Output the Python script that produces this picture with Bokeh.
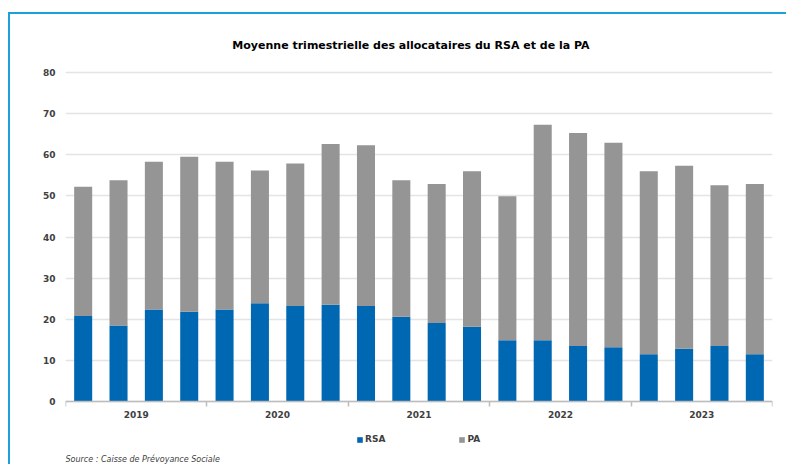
from bokeh.plotting import figure
from bokeh.models import ColumnDataSource, FixedTicker, Legend, LegendItem, Label, Range1d
from bokeh.embed import file_html
from bokeh.resources import INLINE

years = ["2019", "2020", "2021", "2022", "2023"]
quarters = ["T1", "T2", "T3", "T4"]
rsa = [20.8, 18.5, 22.4, 21.8, 22.4, 23.9, 23.2, 23.5, 23.2, 20.6,
       19.1, 18.2, 14.9, 14.9, 13.5, 13.2, 11.5, 12.8, 13.5, 11.5]
pa = [31.4, 35.3, 35.9, 37.7, 35.9, 32.3, 34.7, 39.1, 39.1, 33.2,
      33.8, 37.8, 35.0, 52.4, 51.8, 49.7, 44.5, 44.5, 39.1, 41.4]
y_ticks = [0, 10, 20, 30, 40, 50, 60, 70, 80]

labels = [f"{q} {y}" for y in years for q in quarters]
n_q = len(quarters)
xpos = [i + 0.5 for i in range(len(labels))]

src = ColumnDataSource(dict(x=xpos, label=labels, RSA=rsa, PA=pa))

BLUE = "#0067b2"
GREY = "#959595"
TXT = "#404040"
FONT = "DejaVu Sans"

# frame spans the full canvas height; value axis 0..80 occupies the middle
p = figure(width=778, height=452, x_range=Range1d(0, len(labels)),
           y_range=Range1d(-15.8, 94.1),
           output_backend="svg", toolbar_location=None,
           min_border_left=55, min_border_right=16, min_border_top=0, min_border_bottom=0)
p.styles = {"border-left": "2px solid #1d9fd9", "border-top": "2px solid #1d9fd9",
            "margin-top": "12px", "margin-left": "8px"}
p.outline_line_color = None
p.background_fill_color = "white"
p.border_fill_color = "white"

rends = p.vbar_stack(["RSA", "PA"], x="x", width=0.51, source=src,
                     color=[BLUE, GREY], line_color=None)

# grid
p.xgrid.grid_line_color = None
p.ygrid.grid_line_color = "#e4e4e4"
p.ygrid.grid_line_width = 1.5
p.ygrid.ticker = FixedTicker(ticks=y_ticks)

# y axis
p.yaxis.ticker = FixedTicker(ticks=y_ticks)
p.yaxis.axis_line_color = None
p.yaxis.major_tick_line_color = None
p.yaxis.minor_tick_line_color = None
p.yaxis.major_tick_out = 0
p.yaxis.major_label_standoff = 10

# x axis drawn at value 0
centers = [i * n_q + n_q / 2 for i in range(len(years))]
bounds = [i * n_q for i in range(len(years) + 1)]
p.xaxis.fixed_location = 0
p.xaxis.ticker = FixedTicker(ticks=centers, minor_ticks=bounds)
p.xaxis.major_label_overrides = {c: y for c, y in zip(centers, years)}
p.xaxis.axis_line_color = "#bdbdbd"
p.xaxis.axis_line_width = 1.5
p.xaxis.major_tick_line_color = None
p.xaxis.major_tick_out = 0
p.xaxis.major_tick_in = 0
p.xaxis.minor_tick_line_color = "#bdbdbd"
p.xaxis.minor_tick_line_width = 1.5
p.xaxis.minor_tick_out = 5
p.xaxis.minor_tick_in = 0
p.xaxis.major_label_standoff = 4

for ax in (p.xaxis[0], p.yaxis[0]):
    ax.major_label_text_font = FONT
    ax.major_label_text_font_size = "9px"
    ax.major_label_text_font_style = "bold"
    ax.major_label_text_color = TXT

# title
p.add_layout(Label(x=4.72, y=86.6, text="Moyenne trimestrielle des allocataires du RSA et de la PA",
                   text_align="left", text_baseline="middle", text_font=FONT,
                   text_font_size="11px", text_font_style="bold", text_color="#000000"))
# source
p.add_layout(Label(x=0.0, y=-14.0, text="Source : Caisse de Prévoyance Sociale",
                   text_align="left", text_baseline="middle", text_font=FONT,
                   text_font_size="8px", text_font_style="italic", text_color=TXT))

# legend
lg = Legend(items=[LegendItem(label="RSA", renderers=[rends[0]]),
                   LegendItem(label="PA", renderers=[rends[1]])],
            location=(291, 22), orientation="horizontal", glyph_width=7, glyph_height=7,
            label_text_font=FONT, label_text_font_size="9px", label_text_font_style="bold",
            label_text_color=TXT, label_standoff=2, label_height=9, label_width=10,
            spacing=73, padding=0, margin=0, border_line_color=None,
            background_fill_alpha=0)
p.add_layout(lg, "center")

open("out.html", "w").write(file_html(p, INLINE))
